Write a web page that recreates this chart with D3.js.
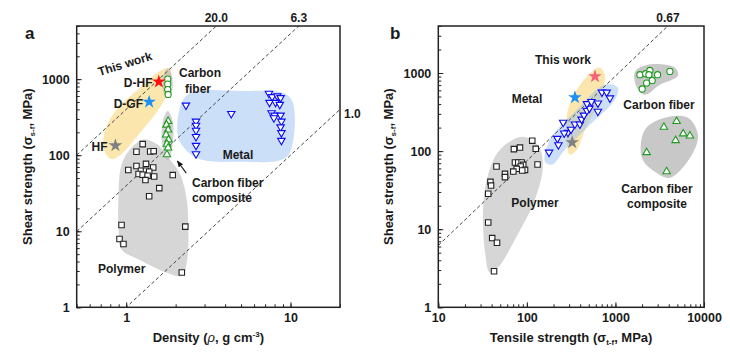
<!DOCTYPE html>
<html><head><meta charset="utf-8">
<script src="https://cdn.jsdelivr.net/npm/d3@7"></script>
<style>body{margin:0;background:#fff}text{font-family:Arial,"Liberation Sans",sans-serif;fill:#1a1a1a}</style>
</head><body><svg id="c" width="730" height="355"></svg>
<script>
// ---------- DATA ----------
// Panel a: [density g/cm3, shear strength MPa]
const aPolymer = [[1.26,140],[1.155,111],[1.40,112],[1.47,113],[1.155,72],[1.03,64],[1.32,77],[1.46,69],[1.23,62.5],[1.32,62.5],[1.38,60.6],[1.19,56.5],[1.26,55.3],[1.35,53.7],[1.48,52.4],[1.31,47.1],[1.92,54.8],[1.59,36.9],[1.38,28.9],[0.937,12.1],[2.29,11.5],[0.911,7.9],[0.963,6.8],[2.18,2.87]];
const aCarbonFiber = [[1.79,1000],[1.79,860],[1.79,730],[1.80,630]];
const aCFComposite = [[1.80,280],[1.76,250],[1.80,215],[1.75,185],[1.81,160],[1.77,140],[1.80,125],[1.77,102]];
const aMetal = [[2.31,454],[4.36,352],[2.66,279],[2.66,247],[2.66,212],[2.66,175],[2.66,134],[2.66,104],[7.39,649],[7.73,586],[8.3,600],[8.7,569],[7.45,493],[8.11,493],[8.6,464],[7.67,360],[8.0,335],[8.7,335],[8.8,279],[8.7,235],[8.8,197],[8.8,156],[7.92,309]];
const thisWorkNames = ["D-HF","D-GF","HF"];
const thisWorkDensity = [1.58,1.38,0.86];
const thisWorkShearA = [927,503,134];
const guideK = [20.0, 6.3, 1.0]; // shear = (k * density)^2
// Panel b: [tensile strength MPa, shear strength MPa]
const bPolymer = [[115,136],[83.6,111],[71.4,106],[126,107],[132,67.3],[73.4,71.4],[80,71.4],[87.3,71.4],[91,66.7],[85.1,63.5],[95.3,57.5],[76.7,59.3],[70.3,54.7],[88.7,56.4],[45.4,63.5],[56.6,51.2],[56.6,46.4],[38.8,40.4],[39.4,36.2],[36.6,28.4],[36.6,12.2],[40.6,7.7],[46,6.7],[42.6,2.9]];
const bMetal = [[178,96.5],[221,145],[227,120],[257,233],[291,173],[315,190],[349,221],[397,221],[415,256],[441,288],[477,329],[509,354],[477,404],[536,429],[634,412],[634,322],[704,567],[796,567],[867,478],[264,170]];
const bCarbonFiber = [[1888,951],[2191,979],[2449,1079],[2388,951],[2992,951],[4120,1049],[2600,804],[2250,744],[2005,624]];
const bCFComposite = [[2250,96],[3524,203],[4906,240],[4780,137],[5820,167],[6930,157],[3785,54.7]];
const thisWorkTensile = [588,349,325];
const thisWorkShearB = [904,487,129];
const bGuide = [[10,6.2],[3900,4000]];
const bGuideLabel = "0.67";
const xTicksA = [1,10], yTicks = [1,10,100,1000], xTicksB = [10,100,1000,10000];

// region outlines (data units)
const aRegThisWork = [[1.83,1390],[1.88,879],[1.59,410],[1.20,191],[0.937,104],[0.815,89],[0.73,120],[0.75,223],[0.886,410],[1.20,755],[1.59,1268]];
const aRegPolymer = [[1.256,160],[1.526,141],[1.83,89],[2.10,60],[2.32,28.9],[2.39,10.6],[2.35,4.23],[2.19,2.6],[1.71,2.94],[1.20,4.23],[0.937,5.74],[0.898,10.6],[0.898,28.9],[0.924,66],[1.004,104]];
const aRegMetal = [[2.4,640],[5,700],[9.2,650],[10.3,500],[10.4,160],[9.3,92],[5,82],[2.7,92],[2.1,160],[2.1,380]];
const aRegCF = [[1.79,1380],[1.9,1100],[1.9,700],[1.79,560],[1.68,700],[1.68,1100]];
const aRegCFC = [[1.79,380],[1.92,280],[1.9,120],[1.79,85],[1.67,120],[1.67,280]];
const bRegThisWork = [[668,1170],[760,951],[668,455],[453,188],[367,104],[306,90],[284,120],[291,339],[378,649],[543,1040]];
const bRegMetal = [[160,73],[182,140],[349,319],[760,708],[1066,649],[986,455],[515,217],[269,104],[192,67]];
const bRegPolymer = [[88,153],[133,120],[152,67],[123,23.8],[73,7.3],[47,3.2],[38,2.8],[34,4.7],[32,17.7],[36.4,49.7],[49.7,104]];
const bRegCF = [[1660,1040],[2330,1277],[4700,1170],[5070,923],[3180,708],[2150,527],[1750,649]];
const bRegCFC = [[2150,188],[3620,267],[6580,267],[8530,162],[7300,90],[4120,45.5],[2790,54.3],[1990,82]];

// ---------- STYLE ----------
const GREEN = "#1f9a1f", BLUE = "#0a0af5";
const YEL = "#f7cf5c", LBLUE = "#8cb8f2", GRAY = "#b4b4b4", DGRAY = "#9a9a9a";
const starColA = ["#ff1010","#1e8ff5","#808080"];
const starColB = ["#f2647c","#1e8ff5","#808080"];

const svg = d3.select("#c");
const defs = svg.append("defs");
defs.append("marker").attr("id","arr").attr("viewBox","0 0 10 10").attr("refX",9).attr("refY",5)
  .attr("markerWidth",6).attr("markerHeight",6).attr("orient","auto")
  .append("path").attr("d","M0,1 L10,5 L0,9 Z").attr("fill","#111");

function drawPanel(p){
  const g = svg.append("g");
  const x = d3.scaleLog().domain(p.xDomain).range(p.xRange);
  const y = d3.scaleLog().domain(p.yDomain).range(p.yRange);
  const [x0,x1] = p.xRange, [y0,y1] = p.yRange;
  defs.append("clipPath").attr("id","clip"+p.id).append("rect")
    .attr("x",x0).attr("y",y1).attr("width",x1-x0).attr("height",y0-y1);
  const plot = g.append("g").attr("clip-path",`url(#clip${p.id})`);
  const outline = d3.line().x(d=>x(d[0])).y(d=>y(d[1])).curve(d3.curveCatmullRomClosed.alpha(0.5));
  p.regions.forEach(r=>plot.append("path").attr("d",outline(r.pts)).attr("fill",r.fill).attr("fill-opacity",r.op));
  const seg = d3.line().x(d=>x(d[0])).y(d=>y(d[1]));
  p.guides.forEach(gd=>plot.append("path").attr("d",seg(gd)).attr("fill","none")
    .attr("stroke","#444").attr("stroke-width",1).attr("stroke-dasharray","3.5,2.5"));
  // markers
  p.series.forEach(s=>{
    const sym = d3.symbol().type(s.type).size(s.size);
    plot.append("g").selectAll("path").data(s.data).join("path")
      .attr("d",sym)
      .attr("transform",d=>`translate(${x(d[0])},${y(d[1])})${s.rot?" rotate(180)":""}`)
      .attr("fill","white").attr("stroke",s.color).attr("stroke-width",1.1);
  });
  const star = d3.symbol().type(d3.symbolStar).size(58);
  p.stars.x.forEach((v,i)=>{
    plot.append("path").attr("d",star).attr("transform",`translate(${x(v)},${y(p.stars.y[i])})`)
      .attr("fill",p.stars.colors[i]);
  });
  // axes
  const ax = g.append("g");
  const bottom = ax.append("g").attr("transform",`translate(0,${y0})`);
  bottom.append("g").call(d3.axisBottom(x).tickValues(x.ticks()).tickSize(-3).tickFormat(""));
  bottom.append("g").call(d3.axisBottom(x).tickValues(p.xMajor).tickSize(-5).tickPadding(6).tickFormat(d3.format("d")));
  const left = ax.append("g").attr("transform",`translate(${x0},0)`);
  left.append("g").call(d3.axisLeft(y).tickValues(y.ticks()).tickSize(-3).tickFormat(""));
  left.append("g").call(d3.axisLeft(y).tickValues(yTicks).tickSize(-5).tickPadding(7).tickFormat(d3.format("d")));
  ax.selectAll(".domain").remove();
  ax.selectAll(".tick line").attr("stroke","#222");
  ax.selectAll(".tick text").attr("font-size",12.5).attr("font-weight","bold")
    .attr("font-family",'Arial,"Liberation Sans",sans-serif').attr("fill","#1a1a1a");
  g.append("rect").attr("x",x0).attr("y",y1).attr("width",x1-x0).attr("height",y0-y1)
    .attr("fill","none").attr("stroke","#222").attr("stroke-width",1.5);
  // titles
  const yt = g.append("text").attr("transform",`translate(${p.yTitleX},${(y0+y1)/2}) rotate(-90)`)
    .attr("text-anchor","middle").attr("font-weight","bold").attr("font-size",13);
  yt.append("tspan").text("Shear strength (σ");
  yt.append("tspan").attr("font-size",8).attr("dy",3).text("s-f");
  yt.append("tspan").attr("dy",-3).text(", MPa)");
  const xt = g.append("text").attr("x",(x0+x1)/2).attr("y",p.xTitleY).attr("text-anchor","middle")
    .attr("font-weight","bold").attr("font-size",13);
  p.xTitle(xt);
  g.append("text").attr("x",p.letter[1]).attr("y",p.letter[2]).attr("font-size",17).attr("font-weight","bold").text(p.letter[0]);
  p.labels.forEach(l=>{
    const t = g.append("text").attr("x",l[1]).attr("y",l[2]).attr("text-anchor",l[3]||"middle")
      .attr("dominant-baseline","central").attr("font-weight","bold").attr("font-size",l[4]||12).text(l[0]);
    if(l[5]) t.attr("transform",`rotate(${l[5]},${l[1]},${l[2]})`);
  });
  return {x,y,g};
}

// ---------- PANEL A ----------
const A = drawPanel({
  id:"a", xDomain:[0.5,20], yDomain:[1,5000], xRange:[76.7,340], yRange:[307.3,26],
  xMajor:xTicksA, yTitleX:32, xTitleY:342,
  regions:[
    {pts:aRegThisWork, fill:YEL, op:0.5},
    {pts:aRegPolymer, fill:GRAY, op:0.55},
    {pts:aRegMetal, fill:LBLUE, op:0.45},
    {pts:aRegCF, fill:GRAY, op:0.6},
    {pts:aRegCFC, fill:GRAY, op:0.6}],
  guides: guideK.map(k=>[[0.5,(k*0.5)**2],[20,(k*20)**2]]),
  series:[
    {data:aPolymer, type:d3.symbolSquare, size:30, color:"#222"},
    {data:aCarbonFiber, type:d3.symbolCircle, size:30, color:GREEN},
    {data:aCFComposite, type:d3.symbolTriangle, size:24, color:GREEN},
    {data:aMetal, type:d3.symbolTriangle, size:24, color:BLUE, rot:true}],
  stars:{x:thisWorkDensity, y:thisWorkShearA, colors:starColA},
  xTitle:t=>{t.append("tspan").text("Density (");
    t.append("tspan").attr("font-style","italic").attr("font-weight","normal").text("ρ");
    t.append("tspan").text(", g cm");
    t.append("tspan").attr("font-size",8).attr("dy",-5).text("-3");
    t.append("tspan").attr("dy",5).text(")");},
  letter:["a",25,39],
  labels:[["This work",125,64,"middle",12,-17],["D-HF",152.5,83,"end"],["D-GF",143,104,"end"],["HF",107.5,147,"end"],
    ["Carbon",200,73],["fiber",198,89],["Metal",238,155],["Carbon fiber",192,183,"start"],["composite",192,198,"start"],
    ["Polymer",121.7,269]]
});
// guide labels a
guideK.forEach((k,i)=>{
  const topRho = Math.sqrt(5000)/k;
  if(topRho<20){
    A.g.append("text").attr("x",A.x(topRho)).attr("y",18).attr("text-anchor","middle").attr("dominant-baseline","central")
      .attr("font-weight","bold").attr("font-size",12).text(k.toFixed(1));
  } else {
    A.g.append("text").attr("x",344).attr("y",A.y((k*20)**2)+5).attr("text-anchor","start").attr("dominant-baseline","central")
      .attr("font-weight","bold").attr("font-size",12).text(k.toFixed(1));
  }
});
A.g.append("line").attr("x1",A.x(2.32)).attr("y1",A.y(58)).attr("x2",A.x(2.05)).attr("y2",A.y(84))
  .attr("stroke","#111").attr("stroke-width",1.1).attr("marker-end","url(#arr)");

// ---------- PANEL B ----------
const B = drawPanel({
  id:"b", xDomain:[10,10000], yDomain:[1,4000], xRange:[438.3,704], yRange:[307.3,26],
  xMajor:xTicksB, yTitleX:393, xTitleY:342,
  regions:[
    {pts:bRegPolymer, fill:GRAY, op:0.55},
    {pts:bRegThisWork, fill:YEL, op:0.5},
    {pts:bRegMetal, fill:LBLUE, op:0.45},
    {pts:bRegCF, fill:DGRAY, op:0.55},
    {pts:bRegCFC, fill:DGRAY, op:0.55}],
  guides:[bGuide],
  series:[
    {data:bPolymer, type:d3.symbolSquare, size:30, color:"#222"},
    {data:bCarbonFiber, type:d3.symbolCircle, size:30, color:GREEN},
    {data:bCFComposite, type:d3.symbolTriangle, size:24, color:GREEN},
    {data:bMetal, type:d3.symbolTriangle, size:24, color:BLUE, rot:true}],
  stars:{x:thisWorkTensile, y:thisWorkShearB, colors:starColB},
  xTitle:t=>{t.append("tspan").text("Tensile strength (σ");
    t.append("tspan").attr("font-size",8).attr("dy",3).text("t-f");
    t.append("tspan").attr("dy",-3).text(", MPa)");},
  letter:["b",390,39],
  labels:[["This work",563,60],["Metal",527,99],["Carbon fiber",659,105],["Carbon fiber",657,189],["composite",657,204],
    ["Polymer",535,203],[bGuideLabel,668,18]]
});
</script></body></html>
